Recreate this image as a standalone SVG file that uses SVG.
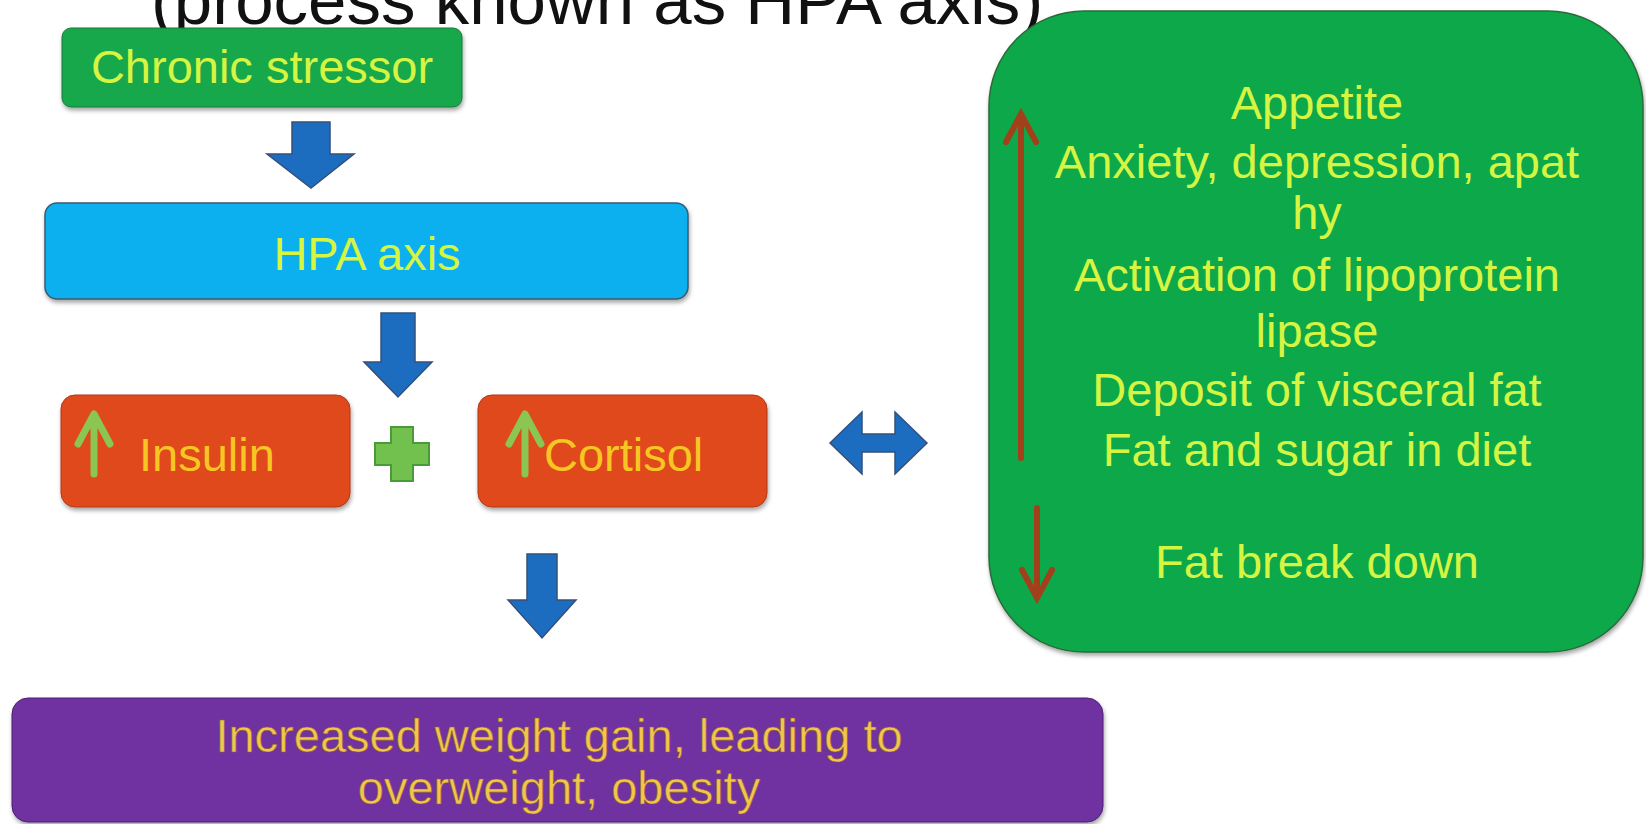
<svg xmlns="http://www.w3.org/2000/svg" width="1646" height="824" viewBox="0 0 1646 824">
<defs>
<filter id="sh" x="-10%" y="-10%" width="120%" height="130%">
<feDropShadow dx="1" dy="3" stdDeviation="2" flood-color="#000" flood-opacity="0.35"/>
</filter>
<style>
text{font-family:"Liberation Sans",Arial,sans-serif;font-size:47px;}
.yg{fill:#d6f542;}
.yo{fill:#f7c623;}
.yp{fill:#f2c64c;stroke:#8a5a30;stroke-width:0.6;}
.blue{fill:#1c6dc0;stroke:#34507a;stroke-width:1.5;}
.garrow{fill:none;stroke:#8cc652;stroke-width:7;stroke-linecap:round;stroke-linejoin:round;}
.rarrow{fill:none;stroke:#a3401c;stroke-width:6;stroke-linecap:round;stroke-linejoin:miter;}
</style>
</defs>
<rect width="1646" height="824" fill="#ffffff"/>
<text x="597" y="24" text-anchor="middle" style="font-size:69px" fill="#111">(process known as HPA axis)</text>

<g id="chronic-stressor">
<rect x="62" y="28" width="400" height="79" rx="9" fill="#13a84b" stroke="#1d7a3a" stroke-width="1" filter="url(#sh)"/>
<text x="262" y="83" text-anchor="middle" class="yg">Chronic stressor</text>
</g>

<g id="hpa-axis">
<rect x="45" y="203" width="643" height="96" rx="12" fill="#0fb0ef" stroke="#3a5a70" stroke-width="1.5" filter="url(#sh)"/>
<text x="367" y="270" text-anchor="middle" class="yg">HPA axis</text>
</g>

<g id="insulin">
<rect x="61" y="395" width="289" height="112" rx="14" fill="#e0481a" stroke="#b03a18" stroke-width="1" filter="url(#sh)"/>
<path class="garrow" d="M94 474 V416 M78 444 L94 414 L110 444"/>
<text x="139" y="471" class="yo">Insulin</text>
</g>

<g id="plus">
<path d="M391 427 H413 V443 H429 V465 H413 V481 H391 V465 H375 V443 H391 Z" fill="#72c04e" stroke="#4a9a3a" stroke-width="2"/>
</g>

<g id="cortisol">
<rect x="478" y="395" width="289" height="112" rx="14" fill="#e0481a" stroke="#b03a18" stroke-width="1" filter="url(#sh)"/>
<path class="garrow" d="M525 474 V416 M509 444 L525 414 L541 444"/>
<text x="544" y="471" class="yo">Cortisol</text>
</g>

<g id="effects">
<rect x="989" y="11" width="654" height="641" rx="95" fill="#10a84a" stroke="#2a6a3a" stroke-width="1.5" filter="url(#sh)"/>
<g text-anchor="middle" class="yg">
<text x="1317" y="119">Appetite</text>
<text x="1317" y="178">Anxiety, depression, apat</text>
<text x="1317" y="229">hy</text>
<text x="1317" y="291">Activation of lipoprotein</text>
<text x="1317" y="347">lipase</text>
<text x="1317" y="406">Deposit of visceral fat</text>
<text x="1317" y="466">Fat and sugar in diet</text>
<text x="1317" y="578">Fat break down</text>
</g>
<path class="rarrow" d="M1021 458 V116 M1006 142 L1021 114 L1036 142"/>
<path class="rarrow" d="M1037 508 V598 M1022 570 L1037 598 L1052 570"/>
</g>

<g id="outcome">
<rect x="12" y="698" width="1091" height="124" rx="16" fill="#7030a0" stroke="#4a2070" stroke-width="1" filter="url(#sh)"/>
<text x="559" y="752" text-anchor="middle" class="yp">Increased weight gain, leading to</text>
<text x="559" y="804" text-anchor="middle" class="yp">overweight, obesity</text>
</g>

<g id="connectors">
<polygon class="blue" points="292,122 330,122 330,154 354,154 311,188 267,154 292,154"/>
<polygon class="blue" points="381,313 415,313 415,362 432,362 398,397 364,362 381,362"/>
<polygon class="blue" points="527,554 557,554 557,600 576,600 542,638 508,600 527,600"/>
<polygon class="blue" points="830,443 862,412 862,434 895,434 895,412 927,443 895,474 895,452 862,452 862,474"/>
</g>
</svg>
